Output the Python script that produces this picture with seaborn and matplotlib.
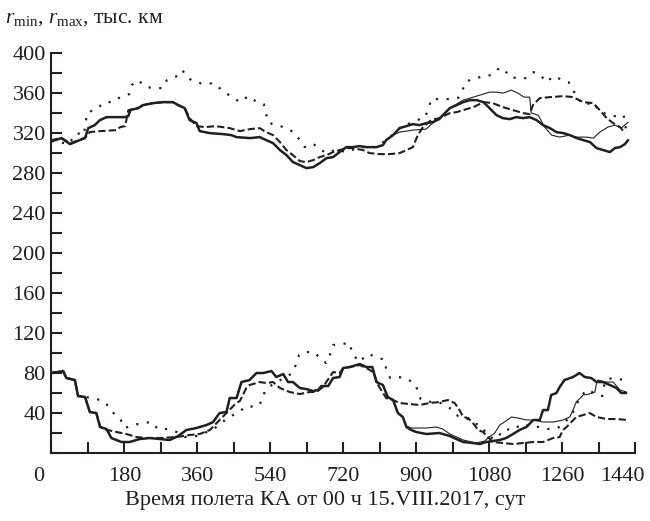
import matplotlib
matplotlib.use("Agg")
import matplotlib.pyplot as plt
import matplotlib.transforms as mtransforms
from matplotlib.ticker import MultipleLocator, FixedLocator
import seaborn as sns
import pandas as pd

# ---- r_max, thick solid ----
rmax_thick_days = [0, 10, 25, 46, 70, 83, 91, 107, 120, 136, 161, 181, 190, 195, 214, 226, 251, 276, 300,
                   313, 329, 341, 358, 366, 391, 424, 444, 457, 490, 514, 530, 547, 564, 580, 596, 613,
                   629, 646, 662, 679, 695, 711, 728, 744, 760, 777, 802, 818, 826, 843, 859, 876, 892,
                   908, 925, 941, 957, 966, 983, 1000, 1016, 1033, 1049, 1066, 1081, 1098, 1114, 1131,
                   1147, 1164, 1180, 1197, 1213, 1230, 1246, 1263, 1279, 1296, 1312, 1329, 1345, 1362,
                   1378, 1390, 1403, 1415, 1423]
rmax_thick_vals = [312, 313, 315, 309, 313, 315, 325, 328, 333, 336, 336, 336, 337, 343, 345, 348, 350, 351, 351,
                   348, 345, 333, 330, 322, 320, 319, 318, 316, 315, 316, 313, 310, 303, 298, 291, 288,
                   285, 286, 290, 295, 296, 301, 306, 306, 307, 306, 306, 308, 313, 318, 325, 327, 329,
                   328, 330, 331, 334, 338, 345, 348, 351, 353, 353, 351, 345, 338, 335, 334,
                   336, 335, 336, 333, 328, 325, 321, 320, 318, 315, 313, 311, 305, 303,
                   301, 305, 306, 309, 313]

# ---- r_max, thin solid ----
rmax_thin_days = [0, 10, 25, 46, 70, 83, 91, 107, 120, 136, 161, 181, 190, 195, 214, 226, 251, 276, 300,
                  313, 329, 341, 358, 366, 391, 424, 444, 457, 490, 514, 530, 547, 564, 580, 596, 613,
                  629, 646, 662, 679, 695, 711, 728, 744, 760, 777, 802, 818, 826, 843, 859, 876, 892,
                  925, 935, 957, 983, 1016, 1033, 1057, 1081, 1098, 1114, 1135, 1151, 1166, 1180, 1184,
                  1201, 1217, 1234, 1254, 1279, 1296, 1320, 1337, 1353, 1373, 1390, 1406, 1423]
rmax_thin_vals = [312, 313, 315, 309, 313, 315, 325, 328, 333, 336, 336, 336, 337, 343, 345, 348, 350, 351, 351,
                  348, 345, 333, 330, 322, 320, 319, 318, 316, 315, 316, 313, 310, 303, 298, 291, 288,
                  285, 286, 290, 295, 296, 301, 306, 306, 307, 306, 306, 308, 313, 318, 321, 322, 323,
                  324, 328, 335, 345, 353, 355, 358, 361, 361, 360, 363, 360, 356, 356, 340,
                  338, 326, 318, 316, 318, 316, 316, 315, 321, 326, 328, 325, 331]

# ---- r_max, dashed ----
rmax_dash_days = [0, 25, 46, 70, 85, 95, 120, 160, 170, 182, 190, 214, 226, 251, 276, 300, 313, 329, 341,
                  358, 380, 405, 440, 465, 490, 514, 530, 547, 564, 580, 596, 613, 629, 646, 662, 679,
                  695, 711, 728, 744, 769, 785, 810, 835, 859, 876, 892, 904, 917, 937, 957, 983, 1000,
                  1016, 1041, 1066, 1089, 1114, 1139, 1164, 1180, 1188, 1205, 1230, 1263, 1287, 1312,
                  1337, 1353, 1370, 1386, 1403, 1415]
rmax_dash_vals = [313, 315, 310, 313, 316, 321, 322, 323, 326, 327, 343, 345, 348, 350, 351, 351, 348, 345, 335,
                  327, 326, 327, 325, 322, 324, 325, 321, 318, 311, 303, 298, 292, 291, 293, 296, 298,
                  301, 303, 305, 305, 303, 300, 299, 299, 300, 303, 306, 318, 326, 333, 335, 340, 341,
                  343, 346, 351, 350, 346, 343, 340, 339, 348, 355, 356, 357, 356, 351,
                  350, 343, 335, 330, 326, 320]

# ---- r_max, dotted ----
rmax_dot_days = [0, 20, 42, 63, 80, 88, 93, 114, 132, 152, 170, 192, 198, 214, 234, 255, 274, 285, 306,
                 323, 337, 356, 377, 399, 415, 432, 448, 467, 485, 504, 524, 529, 537, 559, 578, 598,
                 613, 625, 647, 664, 683, 703, 726, 748, 770, 800, 830, 860, 880, 901, 921, 931, 937,
                 956, 978, 1003, 1014, 1024, 1044, 1063, 1085, 1102, 1115, 1131, 1151, 1172, 1190,
                 1207, 1221, 1239, 1256, 1276, 1288, 1295, 1315, 1336, 1350, 1373, 1389, 1412, 1419]
rmax_dot_vals = [312, 311, 309, 320, 318, 340, 341, 345, 351, 351, 356, 359, 368, 373, 366, 365, 365, 373, 376,
                 383, 375, 371, 369, 370, 365, 360, 355, 351, 357, 352, 349, 340, 330, 328, 325, 321,
                 313, 306, 309, 303, 300, 304, 301, 304, 306, 306, 314, 325, 329, 333, 335, 345, 354,
                 354, 354, 355, 363, 372, 374, 377, 378, 384, 385, 376, 375, 375, 381,
                 378, 371, 377, 374, 371, 363, 356, 348, 351, 343, 338, 337, 338, 320]

# ---- r_min, thick solid ----
rmin_thick_days = [0, 29, 37, 58, 66, 83, 95, 111, 120, 136, 148, 173, 193, 218, 243, 267, 292, 313, 333,
                   358, 383, 399, 415, 432, 440, 457, 469, 489, 506, 522, 543, 555, 572, 584, 596, 613,
                   629, 646, 658, 666, 683, 695, 711, 720, 736, 761, 777, 792, 802, 818, 830, 843, 855,
                   867, 876, 888, 900, 925, 957, 983, 999, 1016, 1040, 1057, 1073, 1089, 1106, 1122,
                   1139, 1155, 1172, 1189, 1205, 1213, 1225, 1233, 1246, 1254, 1266, 1287, 1303, 1316,
                   1332, 1345, 1361, 1378, 1394, 1406, 1418]
rmin_thick_vals = [80, 82, 75, 73, 57, 56, 41, 40, 26, 24, 15, 11, 11, 14, 15, 14, 13, 17, 23,
                   25, 28, 31, 40, 41, 55, 55, 71, 73, 80, 80, 82, 76, 79, 71, 71, 65,
                   64, 62, 63, 67, 67, 75, 76, 85, 86, 89, 86, 86, 71, 68, 56, 53, 40,
                   36, 26, 23, 21, 19, 20, 17, 14, 11, 10, 9, 11, 12, 13, 15,
                   19, 23, 26, 33, 33, 43, 43, 58, 60, 66, 73, 76, 80, 76,
                   75, 71, 71, 68, 65, 60, 60]

# ---- r_min, thin solid ----
rmin_thin_days = [0, 29, 37, 58, 66, 83, 95, 111, 120, 136, 148, 173, 193, 218, 243, 267, 292, 313, 333,
                  358, 383, 399, 415, 432, 440, 457, 469, 489, 506, 522, 543, 555, 572, 584, 596, 613,
                  629, 646, 658, 666, 683, 695, 711, 720, 736, 761, 777, 792, 802, 818, 830, 843, 855,
                  867, 876, 888, 900, 925, 950, 966, 983, 1016, 1048, 1069, 1077, 1094, 1106, 1118,
                  1135, 1151, 1172, 1189, 1213, 1238, 1262, 1279, 1287, 1295, 1312, 1328, 1341, 1345,
                  1349, 1366, 1386, 1403, 1419]
rmin_thin_vals = [80, 82, 75, 73, 57, 56, 41, 40, 26, 24, 15, 11, 11, 14, 15, 14, 13, 17, 23,
                  25, 28, 31, 40, 41, 55, 55, 71, 73, 80, 80, 82, 76, 79, 71, 71, 65,
                  64, 62, 63, 67, 67, 75, 76, 85, 86, 89, 86, 86, 71, 68, 56, 53, 40,
                  36, 27, 25, 25, 25, 26, 24, 19, 13, 10, 12, 15, 20, 28, 31,
                  36, 35, 33, 33, 31, 31, 33, 36, 43, 51, 58, 59, 61, 70,
                  73, 71, 71, 63, 61]

# ---- r_min, dashed ----
rmin_dash_days = [0, 29, 37, 58, 66, 83, 95, 111, 120, 128, 161, 185, 210, 234, 267, 309, 341, 366, 391,
                  415, 432, 456, 465, 481, 489, 514, 530, 547, 564, 588, 613, 637, 654, 670, 695, 711,
                  720, 736, 761, 777, 794, 806, 826, 843, 859, 884, 908, 933, 958, 978, 995, 1007, 1016,
                  1028, 1040, 1053, 1065, 1077, 1089, 1114, 1139, 1164, 1189, 1213, 1238, 1254, 1262,
                  1271, 1283, 1295, 1312, 1328, 1345, 1370, 1394, 1423]
rmin_dash_vals = [80, 82, 75, 73, 57, 56, 41, 40, 27, 24, 21, 19, 16, 15, 15, 16, 18, 19, 23,
                  33, 40, 50, 52, 65, 68, 71, 70, 71, 65, 61, 59, 61, 61, 66, 81, 80,
                  85, 86, 88, 85, 81, 68, 55, 53, 50, 49, 48, 50, 51, 53, 50, 43, 36,
                  35, 30, 23, 21, 16, 11, 10, 9, 10, 11, 11, 15, 16, 23,
                  26, 31, 36, 38, 40, 36, 34, 34, 33]

# ---- r_min, dotted ----
rmin_dot_days = [0, 29, 37, 58, 66, 83, 103, 128, 143, 157, 171, 181, 202, 225, 247, 263, 286, 309, 329,
                 358, 383, 407, 432, 465, 483, 506, 520, 526, 540, 560, 580, 594, 604, 611, 627, 649,
                 662, 678, 688, 695, 715, 736, 742, 759, 781, 804, 822, 826, 836, 855, 874, 894, 904,
                 911, 925, 937, 955, 970, 987, 1003, 1024, 1040, 1057, 1071, 1079, 1097, 1118, 1139,
                 1160, 1180, 1205, 1225, 1249, 1266, 1287, 1301, 1319, 1340, 1359, 1364, 1375, 1393,
                 1413, 1419]
rmin_dot_vals = [80, 82, 75, 73, 57, 56, 55, 52, 46, 38, 33, 25, 28, 30, 31, 24, 24, 21, 16,
                 17, 21, 26, 34, 42, 47, 46, 52, 61, 67, 72, 76, 80, 89, 98, 101, 101,
                 95, 90, 99, 108, 109, 110, 100, 91, 99, 96, 93, 84, 75, 76, 75, 70, 63,
                 54, 52, 51, 51, 48, 44, 37, 35, 30, 28, 21, 16, 14, 24, 23,
                 29, 27, 26, 24, 25, 30, 41, 53, 63, 60, 57, 68, 75, 73,
                 74, 74]

x_major = [0, 180, 360, 540, 720, 900, 1080, 1260, 1440]
y_major = [40, 80, 120, 160, 200, 240, 280, 320, 360, 400]

INK = "#231f20"

sns.set_style("ticks")
plt.rcParams["font.family"] = ["Liberation Serif", "DejaVu Serif"]
plt.rcParams["mathtext.fontset"] = "custom"
plt.rcParams["mathtext.rm"] = "Liberation Serif"
plt.rcParams["mathtext.it"] = "Liberation Serif:italic"

fig = plt.figure(figsize=(6.5, 5.21), dpi=100)
ax = fig.add_axes([0.079, 0.1305, 0.898, 0.7675])

styles = {
    "dot": dict(lw=1.6, dashes=(1, 3.8)),
    "dash": dict(lw=1.5, dashes=(3.5, 1.5)),
    "thin": dict(lw=0.8, dashes=(None, None)),
    "thick": dict(lw=1.8, dashes=(None, None)),
}

series = [
    ("dot", rmax_dot_days, rmax_dot_vals),
    ("dot", rmin_dot_days, rmin_dot_vals),
    ("dash", rmax_dash_days, rmax_dash_vals),
    ("dash", rmin_dash_days, rmin_dash_vals),
    ("thin", rmax_thin_days, rmax_thin_vals),
    ("thin", rmin_thin_days, rmin_thin_vals),
    ("thick", rmax_thick_days, rmax_thick_vals),
    ("thick", rmin_thick_days, rmin_thick_vals),
]

for kind, days, vals in series:
    df = pd.DataFrame({"day": days, "r": vals})
    st = styles[kind]
    line_kw = dict(color=INK, linewidth=st["lw"])
    ax_line = sns.lineplot(data=df, x="day", y="r", ax=ax, estimator=None, sort=False, **line_kw)
    ln = ax_line.get_lines()[-1]
    if st["dashes"][0] is not None:
        ln.set_dashes(st["dashes"])
    else:
        ln.set_linestyle("-")
    ln.set_solid_joinstyle("round")

ax.set_xlim(0, 1440)
ax.set_ylim(0, 400)
sns.despine(ax=ax)
for side in ("left", "bottom"):
    ax.spines[side].set_linewidth(1.5)
    ax.spines[side].set_color(INK)

ax.xaxis.set_major_locator(FixedLocator(x_major))
ax.xaxis.set_minor_locator(MultipleLocator(90))
ax.yaxis.set_major_locator(FixedLocator(y_major))
ax.yaxis.set_minor_locator(MultipleLocator(20))
ax.set_xticklabels([str(v) for v in x_major])
ax.set_yticklabels([str(v) for v in y_major])
ax.tick_params(which="both", direction="in", length=8, width=1.5, color=INK,
               labelsize=16, labelcolor=INK)
ax.tick_params(axis="x", which="both", pad=10)
ax.tick_params(axis="y", which="both", pad=4)

# shift the end labels of the time axis to the left
shift = mtransforms.ScaledTranslation(-13 / 100, 0, fig.dpi_scale_trans)
xt = ax.get_xticklabels()
for lab in (xt[0], xt[-1]):
    lab.set_transform(lab.get_transform() + shift)

ax.set_xlabel("")
ax.set_ylabel("")
fig.text(0.008, 0.965, r"$r_{\rm min}$, $r_{\rm max}$, тыс. км", fontsize=15.5,
         color=INK, ha="left", va="center")
fig.text(0.5, 0.04, "Время полета КА от 00 ч 15.VIII.2017, сут", fontsize=16,
         color=INK, ha="center", va="center")

fig.savefig("out.png", dpi=100)
